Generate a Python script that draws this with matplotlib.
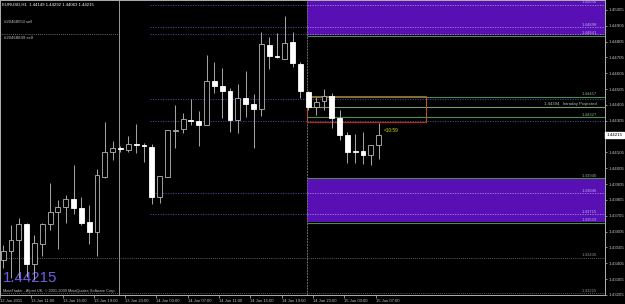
import matplotlib.pyplot as plt
from matplotlib.patches import Rectangle

# EURUSD H1 candles
opens = [1.43425, 1.43482, 1.43551, 1.43653, 1.43400, 1.43526, 1.43653, 1.43728, 1.43760, 1.43811,
         1.43754, 1.43665, 1.43602, 1.43950, 1.44108, 1.44133, 1.44120, 1.44155, 1.44152, 1.44139,
         1.43823, 1.43950, 1.44240, 1.44253, 1.44310, 1.44303, 1.44278, 1.44556, 1.44525, 1.44493,
         1.44310, 1.44449, 1.44411, 1.44379, 1.44784, 1.44714, 1.44695, 1.44803, 1.44664, 1.44487,
         1.44392, 1.44430, 1.44461, 1.44322, 1.44215, 1.44114, 1.44114, 1.44089, 1.44149]
highs = [1.43520, 1.43646, 1.43690, 1.43659, 1.43583, 1.43659, 1.43912, 1.43804, 1.43836, 1.44025,
         1.43823, 1.43773, 1.44000, 1.44297, 1.44177, 1.44145, 1.44209, 1.44285, 1.44164, 1.44158,
         1.43956, 1.44246, 1.44405, 1.44354, 1.44443, 1.44367, 1.44721, 1.44676, 1.44638, 1.44512,
         1.44537, 1.44620, 1.44474, 1.44866, 1.44834, 1.44860, 1.44967, 1.44866, 1.44676, 1.44493,
         1.44455, 1.44506, 1.44480, 1.44373, 1.44234, 1.44221, 1.44234, 1.44152, 1.44292]
lows = [1.43374, 1.43311, 1.43311, 1.43318, 1.43298, 1.43450, 1.43614, 1.43494, 1.43659, 1.43716,
        1.43646, 1.43526, 1.43450, 1.43943, 1.44057, 1.44108, 1.44108, 1.44101, 1.44044, 1.43779,
        1.43785, 1.43950, 1.44133, 1.44228, 1.44278, 1.44145, 1.44278, 1.44480, 1.44322, 1.44234,
        1.44228, 1.44329, 1.44133, 1.44335, 1.44632, 1.44700, 1.44695, 1.44645, 1.44449, 1.44373,
        1.44341, 1.44373, 1.44259, 1.44183, 1.44038, 1.44038, 1.44032, 1.44025, 1.44063]
closes = [1.43482, 1.43551, 1.43653, 1.43400, 1.43532, 1.43653, 1.43728, 1.43760, 1.43811, 1.43754,
          1.43659, 1.43602, 1.43962, 1.44108, 1.44133, 1.44127, 1.44158, 1.44150, 1.44146, 1.43823,
          1.43956, 1.44246, 1.44246, 1.44316, 1.44303, 1.44278, 1.44556, 1.44525, 1.44493, 1.44310,
          1.44449, 1.44411, 1.44379, 1.44790, 1.44714, 1.44708, 1.44796, 1.44670, 1.44493, 1.44392,
          1.44424, 1.44461, 1.44322, 1.44215, 1.44108, 1.44108, 1.44089, 1.44152, 1.44215]

time_labels = ["12 Jun 2011", "13 Jun 11:00", "13 Jun 15:00", "13 Jun 19:00", "13 Jun 23:00",
               "14 Jun 03:00", "14 Jun 07:00", "14 Jun 11:00", "14 Jun 15:00", "14 Jun 19:00",
               "14 Jun 23:00", "15 Jun 03:00", "15 Jun 07:00"]
price_ticks = [1.45005, 1.44905, 1.44805, 1.44705, 1.44605, 1.44505, 1.44405, 1.44305,
               1.44105, 1.44005, 1.43905, 1.43805, 1.43705, 1.43605, 1.43505, 1.43405, 1.43305, 1.43205]
last_price = 1.44215

# horizontal levels
dotted_levels = [1.45037, 1.44898, 1.44856, 1.44441, 1.44303, 1.43846, 1.43714]
green_levels = [1.44841, 1.44457, 1.44327, 1.43941, 1.43661]
projected_level = 1.44394
gray_levels = [1.43439, 1.43214]
zone_top = (1.44850, 1.45068)
zone_bottom = (1.43665, 1.43935)
box_range = (1.44295, 1.44463)

XMIN, XMAX = -0.345, 76.92
YMIN, YMAX = 1.43204, 1.45068
SEP1, SEP2 = 14.85, 38.86
LINE_START = 18.8

fig = plt.figure(figsize=(6.25, 3.04), dpi=100, facecolor='black')
ax = fig.add_axes([0, 9 / 304, 605 / 625, 295 / 304])
ax.set_facecolor('black')
ax.set_xlim(XMIN, XMAX)
ax.set_ylim(YMIN, YMAX)

# purple zones
purple = '#5810b4'
for lo, hi in (zone_top, zone_bottom):
    ax.add_patch(Rectangle((SEP2, lo), XMAX - SEP2, hi - lo, facecolor=purple, edgecolor='none', zorder=1))

# day separators
ax.axvline(SEP1, color='#9a9a9a', lw=0.7, zorder=2)
ax.axvline(SEP2, color='#707070', lw=0.7, ls=(0, (2, 1)), zorder=2)

# dotted pivot lines
for lv in dotted_levels:
    inside = zone_top[0] <= lv <= zone_top[1] or zone_bottom[0] <= lv <= zone_bottom[1]
    ax.hlines(lv, LINE_START, SEP2, color='#4a4aa8', lw=0.6, ls=(0, (1.5, 1.5)), zorder=2)
    ax.hlines(lv, SEP2, XMAX, color='#a98ae8' if inside else '#4a4aa8', lw=0.6, ls=(0, (1.5, 1.5)), zorder=2)
ax.hlines(1.44856, XMIN, SEP1, color='#8a8a8a', lw=0.6, ls=(0, (1, 1.5)), zorder=2)
for lv in gray_levels:
    ax.hlines(lv, XMIN, XMAX, color='#7a7a7a', lw=0.6, ls=(0, (1, 1.5)), zorder=2)

for lv in green_levels:
    ax.hlines(lv, SEP2, XMAX, color='#4f8a4f', lw=0.8, zorder=2)
ax.hlines(projected_level, SEP2, XMAX, color='#7d957d', lw=0.8, zorder=2)

# orange box
ax.add_patch(Rectangle((SEP2, box_range[0]), 54.0 - SEP2, box_range[1] - box_range[0],
                       facecolor='none', edgecolor='#b4561e', lw=0.8, zorder=3))
ax.hlines(box_range[0] + 0.00004, SEP2, 54.0, color='#b02a1a', lw=0.8, zorder=3)

# candles
idx = list(range(len(opens)))
ax.vlines(idx, lows, highs, color='#a8a8a8', lw=0.7, zorder=4)
for i in idx:
    o, c = opens[i], closes[i]
    bottom = min(o, c)
    height = max(abs(c - o), 0.00003)
    if c > o:
        ax.bar(i, height, bottom=bottom, width=0.62, color='black', edgecolor='#b8b8b8', lw=0.6, zorder=5)
    else:
        ax.bar(i, height, bottom=bottom, width=0.62, color='white', edgecolor='white', lw=0.6, zorder=5)

# level labels on the right
small = dict(fontsize=3.1, family='Liberation Sans', ha='right', va='bottom', zorder=6)
ax.text(75.9, 1.45040, "1.45036", color='#b9a0ee', **small)
ax.text(75.9, 1.44900, "1.44898", color='#b9a0ee', **small)
ax.text(75.9, 1.44845, "1.44841", color='#b9a0ee', **small)
ax.text(75.9, 1.44461, "1.44457", color='#7fb07f', **small)
ax.text(75.9, 1.44397, "1.44394   Intraday Projected", color='#a8c8a8', **small)
ax.text(75.9, 1.44330, "1.44327", color='#7fb07f', **small)
ax.text(75.9, 1.43944, "1.43940", color='#7fb07f', **small)
ax.text(75.9, 1.43849, "1.43846", color='#b9a0ee', **small)
ax.text(75.9, 1.43717, "1.43715", color='#b9a0ee', **small)
ax.text(75.9, 1.43664, "1.43659", color='#b9a0ee', **small)
ax.text(75.9, 1.43442, "1.43436", color='#8a8a8a', **small)
ax.text(75.9, 1.43217, "1.43215", color='#8a8a8a', **small)

ax.text(48.6, 1.44246, "<10:59", color='#e0e000', fontsize=3.4, family='Liberation Sans', va='center', zorder=6)

# texts in the top-left / bottom-left corner
ax.text(0.004, 0.985, "EURUSD,H1  1.44149 1.44292 1.44063 1.44215", color='white', fontsize=3.1,
        family='Liberation Sans', transform=ax.transAxes, va='center')
ax.text(0.006, 0.925, "#20468550 sell", color='#c0c0c0', fontsize=3.1, family='Liberation Sans',
        transform=ax.transAxes, va='center')
ax.text(0.006, 0.871, "#20468849 sell", color='#c0c0c0', fontsize=3.1, family='Liberation Sans',
        transform=ax.transAxes, va='center')
ax.text(0.004, 0.056, "1.44215", color='#6e5ce6', fontsize=10.8, family='Liberation Sans',
        transform=ax.transAxes, va='center')
ax.text(0.005, 0.013, "MetaTrader - Alpari UK, \u00a9 2001-2009 MetaQuotes Software Corp.", color='#c0c0c0',
        fontsize=2.8, family='Liberation Sans', transform=ax.transAxes, va='center')

# axes
for side in ['left', 'top', 'right', 'bottom']:
    ax.spines[side].set_color('#b0b0b0')
    ax.spines[side].set_linewidth(0.7)
ax.yaxis.tick_right()
ax.set_yticks(price_ticks)
ax.set_yticklabels([f"{p:.5f}" for p in price_ticks])
ax.set_xticks([i * 4 - 0.4 for i in range(len(time_labels))])
ax.set_xticklabels(time_labels)
ax.tick_params(axis='y', colors='#c0c0c0', labelsize=3.2, length=1.5, width=0.5, pad=1)
ax.tick_params(axis='x', colors='#c0c0c0', labelsize=3.0, length=2, width=0.5, pad=0.8)
for lab in ax.get_xticklabels():
    lab.set_horizontalalignment('left')
    lab.set_family('Liberation Sans')
for lab in ax.get_yticklabels():
    lab.set_family('Liberation Sans')

# current price box
ax.text(1.0025, last_price, "1.44215", transform=ax.get_yaxis_transform(), color='black', fontsize=3.2,
        family='Liberation Sans', va='center', ha='left',
        bbox=dict(boxstyle='square,pad=0.25', facecolor='white', edgecolor='white'))

fig.savefig('out.png', dpi=100, facecolor='black')
